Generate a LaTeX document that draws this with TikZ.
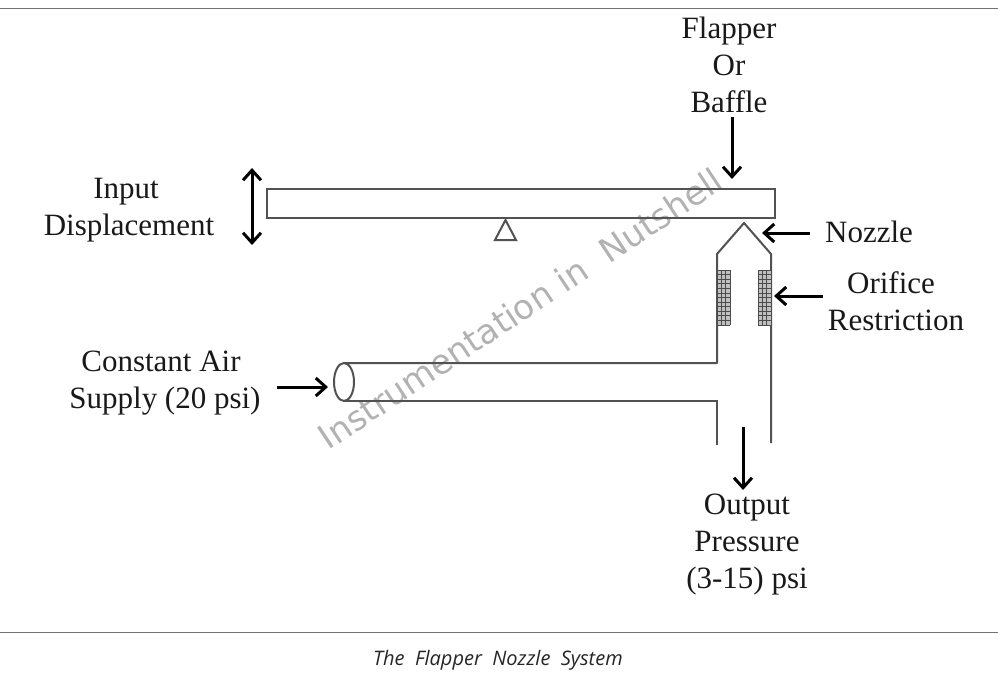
\documentclass[tikz,border=0pt]{standalone}
\usepackage{fontspec}
\setmainfont{Liberation Serif}
\newfontfamily\wmfont{DejaVu Sans}
\newfontfamily\capfont{Open Sans}
\usetikzlibrary{arrows.meta,shapes.geometric}
\tikzset{
  pipe/.style={draw=black!68,line width=2pt},
  pointer/.style={draw=black,line width=3pt,-{Straight Barb[length=10pt,width=18pt,line width=3pt]}},
  twoway/.style={draw=black,line width=3pt,{Straight Barb[length=10pt,width=18pt,line width=3pt]}-{Straight Barb[length=10pt,width=18pt,line width=3pt]}},
  rulel/.style={draw=black!55,line width=0.8pt},
  lab/.style={font=\fontsize{31}{37}\selectfont,align=center,text=black!90,inner sep=0pt,anchor=base},
  gridl/.style={draw=black!70,line width=0.8pt}
}
\begin{document}
\begin{tikzpicture}[x=1pt,y=-1pt]
\useasboundingbox (0,0) rectangle (998,685);
\fill[white] (0,0) rectangle (998,685);
% rules
\coordinate (rt1) at (0,8); \coordinate (rt2) at (998,8);
\coordinate (rb1) at (0,632); \coordinate (rb2) at (998,632);
\draw[rulel] (rt1) -- (rt2);
\draw[rulel] (rb1) -- (rb2);
% watermark
\node[font=\wmfont\fontsize{34}{38}\selectfont,text=black!30,rotate=33.6,inner sep=0pt,anchor=base] (wm) at (527,319) {Instrumentation in\ \ Nutshell};
% flapper and pivot
\draw[pipe] (267,189) rectangle (775,218);
\draw[pipe,line join=miter] (505.5,220) -- (495,240) -- (516,240) -- cycle;
% nozzle
\coordinate (tl) at (717,445); \coordinate (bl) at (717,401);
\coordinate (tr) at (771,443);
\draw[pipe,line join=round] (345,363) -- (717,363) -- (717,254) -- (744,223) -- (771,254) -- (tr);
\draw[pipe] (345,401) -- (bl) -- (tl);
\node[draw=black!68,line width=2pt,ellipse,minimum width=20pt,minimum height=38pt,inner sep=0pt] (inlet) at (344,382) {};
% orifices
\foreach \xa in {717,758}{
  \fill[black!25] (\xa,270) rectangle ++(13,55);
  \foreach \i in {0,...,3} \draw[gridl] ({\xa+\i*13/3},270) -- ++(0,55);
  \foreach \i in {0,...,12} \draw[gridl] (\xa,{270+\i*55/12}) -- ++(13,0);
}
% labels
\node[lab] (input) at (129,235) {Input\hbox to 6pt{}\\Displacement};
\node[lab] (flap) at (729,112) {Flapper\\Or\\Baffle};
\node[lab,anchor=base west] (noz) at (825,242) {Nozzle};
\node[lab] (orif) at (896,330) {Orifice\hbox to 10pt{}\\Restriction};
\node[lab] (air) at (165,408) {Constant Air\hbox to 8pt{}\\Supply (20 psi)};
\node[lab] (out) at (747,588) {Output\\Pressure\\(3-15) psi};
\node[font=\capfont\itshape\fontsize{20}{24}\selectfont,text=black!85,inner sep=0pt] (cap) at (498,660) {The\ \ Flapper\ \ Nozzle\ \ System};
% arrows
\coordinate (dbA) at (252,168); \coordinate (dbB) at (252,245);
\draw[twoway] (dbA) -- (dbB);
\coordinate (fa) at (732,117); \coordinate (fb) at (732,179);
\draw[pointer] (fa) -- (fb);
\coordinate (na) at (810,233); \coordinate (nb) at (762,233);
\draw[pointer] (na) -- (nb);
\coordinate (oa) at (823,296); \coordinate (ob) at (774,296);
\draw[pointer] (oa) -- (ob);
\coordinate (aa) at (277,387); \coordinate (ab) at (328,387);
\draw[pointer] (aa) -- (ab);
\coordinate (pa) at (743,427); \coordinate (pb) at (743,490);
\draw[pointer] (pa) -- (pb);
\end{tikzpicture}
\end{document}
